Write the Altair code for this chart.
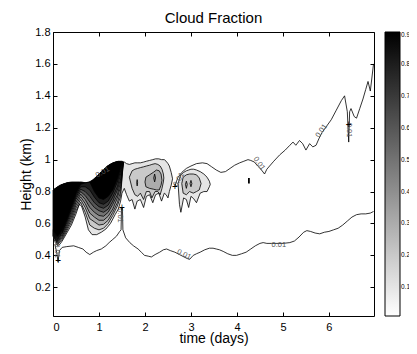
import altair as alt
import pandas as pd

FONT = "Liberation Sans"
TITLE = "Cloud Fraction"

# ---------------- axes / colour bar ticks ----------------
X_TICKS = [0, 1, 2, 3, 4, 5, 6]
Y_TICKS = [0.2, 0.4, 0.6, 0.8, 1.0, 1.2, 1.4, 1.6, 1.8]
CBAR_TICKS = [0.1, 0.2, 0.3, 0.4, 0.5, 0.6, 0.7, 0.8, 0.9]
X_DOMAIN = [0, 6.98]
Y_DOMAIN = [0.02, 1.8]
C_DOMAIN = [0.01, 0.9]

# ---------------- outer (light) envelope: main cloud + second cloud ----------------
OUT_T = [0, 0.05, 0.1, 0.15, 0.2, 0.3, 0.4, 0.5, 0.57, 0.62, 0.7, 0.77, 0.85, 0.95,
         1.05, 1.15, 1.25, 1.35, 1.42, 1.47, 1.5, 1.55, 1.6, 1.66, 1.72, 1.78, 1.83,
         1.9, 1.97, 2.03, 2.1, 2.17, 2.23, 2.3, 2.36, 2.42, 2.46, 2.5, 2.53, 2.57, 2.6]
OUT_TOP = [0.81, 0.82, 0.83, 0.84, 0.845, 0.855, 0.86, 0.86, 0.86, 0.86, 0.855, 0.858,
           0.87, 0.895, 0.925, 0.95, 0.972, 0.985, 0.99, 0.99, 0.99, 0.985, 0.975, 0.97,
           0.975, 0.98, 0.98, 0.98, 0.985, 0.99, 0.995, 1.0, 1.005, 1.005, 1.0, 1.0,
           0.99, 0.975, 0.96, 0.92, 0.88]
OUT_BOT = [0.52, 0.48, 0.46, 0.47, 0.49, 0.54, 0.59, 0.66, 0.72, 0.71, 0.64, 0.56,
           0.53, 0.53, 0.545, 0.565, 0.60, 0.655, 0.69, 0.74, 0.79, 0.82, 0.78, 0.74,
           0.75, 0.69, 0.74, 0.75, 0.70, 0.77, 0.78, 0.73, 0.78, 0.79, 0.74, 0.79,
           0.78, 0.76, 0.80, 0.84, 0.88]

# ---------------- main cloud inner levels (top shared, bottoms per level) ----------------
MAIN_T = [0, 0.1, 0.2, 0.3, 0.4, 0.5, 0.6, 0.7, 0.8, 0.9, 1.0, 1.1, 1.2, 1.3, 1.4, 1.47, 1.53]
MAIN_TOP = [0.81, 0.83, 0.845, 0.855, 0.86, 0.86, 0.86, 0.855, 0.86, 0.88, 0.91, 0.94,
            0.965, 0.98, 0.99, 0.99, 0.985]
MAIN_BOT_02 = [0.525, 0.468, 0.50, 0.553, 0.607, 0.679, 0.733, 0.67, 0.59, 0.57, 0.56, 0.57, 0.60, 0.65, 0.71, 0.77, 0.985]
MAIN_BOT_03 = [0.53, 0.475, 0.51, 0.566, 0.624, 0.697, 0.75, 0.70, 0.63, 0.61, 0.59, 0.595, 0.62, 0.67, 0.73, 0.80, 0.985]
MAIN_BOT_04 = [0.535, 0.483, 0.52, 0.579, 0.641, 0.715, 0.767, 0.725, 0.665, 0.64, 0.62, 0.62, 0.645, 0.69, 0.76, 0.83, 0.985]
MAIN_BOT_05 = [0.54, 0.49, 0.53, 0.592, 0.658, 0.733, 0.784, 0.75, 0.70, 0.67, 0.65, 0.645, 0.67, 0.72, 0.78, 0.86, 0.985]
MAIN_BOT_06 = [0.545, 0.498, 0.54, 0.605, 0.675, 0.751, 0.80, 0.775, 0.735, 0.70, 0.68, 0.67, 0.69, 0.74, 0.81, 0.88, 0.985]
MAIN_BOT_07 = [0.55, 0.505, 0.545, 0.615, 0.69, 0.765, 0.815, 0.80, 0.77, 0.73, 0.705, 0.695, 0.715, 0.765, 0.83, 0.91, 0.985]
MAIN_BOT_08 = [0.555, 0.513, 0.552, 0.623, 0.70, 0.778, 0.83, 0.83, 0.81, 0.765, 0.73, 0.72, 0.74, 0.79, 0.86, 0.93, 0.985]
MAIN_BOT_09 = [0.56, 0.52, 0.56, 0.63, 0.71, 0.79, 0.845, 0.855, 0.86, 0.80, 0.76, 0.75, 0.77, 0.81, 0.88, 0.95, 0.985]
MAIN_LEVELS = [0.2, 0.3, 0.4, 0.5, 0.6, 0.7, 0.8, 0.9]
MAIN_BOTS = [MAIN_BOT_02, MAIN_BOT_03, MAIN_BOT_04, MAIN_BOT_05,
             MAIN_BOT_06, MAIN_BOT_07, MAIN_BOT_08, MAIN_BOT_09]

# ---------------- second cloud (t ~ 1.6-2.6) inner levels ----------------
G2A_T = [1.66, 1.72, 1.78, 1.84, 1.9, 1.97, 2.03, 2.1, 2.15, 2.22, 2.28, 2.33, 2.37, 2.4, 2.41]
G2A_TOP = [0.89, 0.93, 0.94, 0.945, 0.95, 0.955, 0.96, 0.965, 0.97, 0.975, 0.97, 0.96, 0.94, 0.91, 0.885]
G2A_BOT = [0.89, 0.82, 0.78, 0.77, 0.79, 0.75, 0.80, 0.80, 0.76, 0.80, 0.80, 0.78, 0.82, 0.86, 0.885]
G2B_T = [2.0, 2.02, 2.1, 2.18, 2.25, 2.31, 2.35, 2.37]
G2B_TOP = [0.86, 0.89, 0.905, 0.92, 0.935, 0.93, 0.91, 0.87]
G2B_BOT = [0.86, 0.83, 0.82, 0.815, 0.81, 0.81, 0.84, 0.87]
G2C_T = [1.82, 1.83, 1.84]
G2C_TOP = [0.855, 0.875, 0.855]
G2C_BOT = [0.855, 0.835, 0.855]
G2D_T = [2.19, 2.21, 2.23]
G2D_TOP = [0.885, 0.91, 0.885]
G2D_BOT = [0.885, 0.86, 0.885]

# ---------------- third cloud (t ~ 2.7-3.4) ----------------
G3A_T = [2.72, 2.75, 2.78, 2.84, 2.9, 2.95, 3.0, 3.06, 3.12, 3.2, 3.28, 3.35, 3.4, 3.42]
G3A_TOP = [0.85, 0.88, 0.905, 0.92, 0.93, 0.935, 0.94, 0.94, 0.935, 0.925, 0.91, 0.89, 0.865, 0.845]
G3A_BOT = [0.85, 0.72, 0.67, 0.76, 0.75, 0.70, 0.77, 0.755, 0.73, 0.79, 0.80, 0.80, 0.83, 0.845]
G3B_T = [2.8, 2.83, 2.9, 2.97, 3.05, 3.12, 3.18, 3.22]
G3B_TOP = [0.85, 0.89, 0.905, 0.91, 0.91, 0.905, 0.885, 0.85]
G3B_BOT = [0.85, 0.79, 0.78, 0.80, 0.79, 0.80, 0.81, 0.85]
G3C_T = [2.88, 2.9, 2.92]
G3C_TOP = [0.845, 0.865, 0.845]
G3C_BOT = [0.845, 0.82, 0.845]
G3D_T = [2.98, 3.0, 3.02]
G3D_TOP = [0.85, 0.87, 0.85]
G3D_BOT = [0.85, 0.83, 0.85]

# ---------------- 0.01 contour lines ----------------
LOWER_T = [0.04, 0.08, 0.11, 0.14, 0.2, 0.3, 0.45, 0.55, 0.65, 0.72, 0.8, 0.88, 0.95, 1.05,
           1.15, 1.22, 1.3, 1.38, 1.45, 1.48, 1.49, 1.51, 1.52, 1.58, 1.67, 1.75, 1.85, 1.92,
           1.99, 2.07, 2.14, 2.22, 2.32, 2.4, 2.47, 2.55, 2.65, 2.75, 2.85, 2.92, 2.97, 3.05,
           3.12, 3.2, 3.3, 3.4, 3.48, 3.55, 3.62, 3.7, 3.8, 3.9, 3.99, 4.1, 4.2, 4.3, 4.4,
           4.5, 4.57, 4.65, 4.75, 4.85, 5.0, 5.15, 5.25, 5.35, 5.45, 5.52, 5.6, 5.7, 5.8,
           5.9, 6.0, 6.1, 6.2, 6.3, 6.4, 6.5, 6.6, 6.7, 6.8, 6.9, 6.97]
LOWER_H = [0.47, 0.42, 0.36, 0.43, 0.45, 0.455, 0.46, 0.45, 0.44, 0.42, 0.405, 0.42, 0.43, 0.44,
           0.46, 0.48, 0.50, 0.52, 0.55, 0.56, 0.70, 0.70, 0.56, 0.51, 0.48, 0.46, 0.44, 0.42,
           0.40, 0.395, 0.39, 0.405, 0.42, 0.435, 0.44, 0.43, 0.42, 0.405, 0.39, 0.38, 0.375, 0.40,
           0.41, 0.42, 0.435, 0.445, 0.445, 0.44, 0.435, 0.425, 0.41, 0.40, 0.40, 0.41, 0.42, 0.44, 0.46,
           0.475, 0.48, 0.475, 0.475, 0.475, 0.475, 0.48, 0.49, 0.515, 0.545, 0.555, 0.55, 0.54, 0.535,
           0.545, 0.55, 0.56, 0.57, 0.59, 0.615, 0.64, 0.655, 0.66, 0.66, 0.665, 0.675]
UPPER_T = [2.65, 2.68, 2.72, 2.8, 2.9, 3.0, 3.12, 3.25, 3.35, 3.45, 3.55, 3.65, 3.75, 3.85,
           3.95, 4.06, 4.15, 4.24, 4.3, 4.38, 4.45, 4.52, 4.6, 4.65, 4.71, 4.8, 4.93, 5.05,
           5.15, 5.22, 5.28, 5.36, 5.43, 5.5, 5.58, 5.65, 5.72, 5.78, 5.85, 5.95, 6.05, 6.16,
           6.27, 6.34, 6.4, 6.43, 6.45, 6.48, 6.55, 6.6, 6.67, 6.74, 6.8, 6.85, 6.9, 6.97]
UPPER_H = [0.83, 0.86, 0.89, 0.92, 0.945, 0.96, 0.975, 0.98, 0.975, 0.955, 0.935, 0.92, 0.925, 0.945,
           0.965, 0.98, 0.99, 1.0, 0.995, 0.985, 0.96, 0.94, 0.91, 0.94, 0.96, 0.99, 1.03, 1.06,
           1.09, 1.11, 1.09, 1.12, 1.10, 1.06, 1.10, 1.08, 1.09, 1.13, 1.17, 1.21, 1.25, 1.31,
           1.37, 1.40, 1.30, 1.11, 1.30, 1.32, 1.27, 1.26, 1.32, 1.38, 1.44, 1.49, 1.43, 1.60]
SPECK_T = [4.26, 4.26]
SPECK_H = [0.85, 0.885]

# ---------------- contour labels and label markers ----------------
LABEL_TEXT = ["0.01", "0.01", "0.01", "0.01", "0.01", "0.01", "0.01", "0.01", "0.01"]
LABEL_T = [2.85, 4.91, 4.48, 5.84, 6.43, 0.08, 1.46, 1.08, 2.74]
LABEL_H = [0.405, 0.465, 0.975, 1.18, 1.185, 0.43, 0.65, 0.92, 0.875]
LABEL_ANGLE = [25, 0, 55, 305, 90, 90, 90, 330, 300]
CROSS_T = [0.11, 1.5, 2.65, 6.43]
CROSS_H = [0.365, 0.70, 0.83, 1.22]

# ---------------- tables ----------------
area_rows, line_rows = [], []


def add_path(name, ts, hs):
    for i, (t, h) in enumerate(zip(ts, hs)):
        line_rows.append({"path": name, "ord": i, "t": t, "h": h})


def add_region(name, level, ts, tops, bots, outline=True):
    for t, a, b in zip(ts, tops, bots):
        area_rows.append({"region": name, "level": level, "t": t, "top": a, "bot": b})
    if outline:
        add_path(name, list(ts) + list(ts[::-1]) + [ts[0]],
                 list(tops) + list(bots[::-1]) + [tops[0]])


add_region("outer", 0.1, OUT_T, OUT_TOP, OUT_BOT)
for lv, bots in zip(MAIN_LEVELS, MAIN_BOTS):
    add_region(f"main{lv}", lv, MAIN_T, MAIN_TOP, bots, outline=False)
    add_path(f"main{lv}", MAIN_T, bots)
add_region("g2a", 0.2, G2A_T, G2A_TOP, G2A_BOT)
add_region("g2b", 0.3, G2B_T, G2B_TOP, G2B_BOT)
add_region("g2c", 0.4, G2C_T, G2C_TOP, G2C_BOT)
add_region("g2d", 0.4, G2D_T, G2D_TOP, G2D_BOT)
add_region("g3a", 0.1, G3A_T, G3A_TOP, G3A_BOT)
add_region("g3b", 0.2, G3B_T, G3B_TOP, G3B_BOT)
add_region("g3c", 0.3, G3C_T, G3C_TOP, G3C_BOT)
add_region("g3d", 0.3, G3D_T, G3D_TOP, G3D_BOT)
add_path("lower", LOWER_T, LOWER_H)
add_path("upper", UPPER_T, UPPER_H)

area_df = pd.DataFrame(area_rows)
line_df = pd.DataFrame(line_rows)
speck_df = pd.DataFrame({"t": SPECK_T, "h": SPECK_H})
label_df = pd.DataFrame({"text": LABEL_TEXT, "t": LABEL_T, "h": LABEL_H, "angle": LABEL_ANGLE})
cross_df = pd.DataFrame({"t": CROSS_T, "h": CROSS_H})
title_df = pd.DataFrame({"title": [TITLE]})

# ---------------- encodings ----------------
x_scale = alt.Scale(domain=X_DOMAIN, nice=False, zero=False)
y_scale = alt.Scale(domain=Y_DOMAIN, nice=False, zero=False)
x_axis = alt.Axis(values=X_TICKS, format="d", title="time (days)", orient="bottom",
                  offset=-4, tickSize=4, labelPadding=5, titleY=30,
                  titleBaseline="alphabetic", grid=False, domain=False)
y_axis = alt.Axis(values=Y_TICKS, format="~g", title="Height (km)", orient="left",
                  offset=-4, tickSize=4, labelPadding=3, titleX=-31,
                  titleBaseline="middle", grid=False, domain=False)
X = alt.X("t:Q", scale=x_scale, axis=x_axis)
color = alt.Color(
    "level:Q",
    scale=alt.Scale(domain=C_DOMAIN, range=["#ffffff", "#000000"], interpolate="rgb"),
    legend=alt.Legend(orient="none", legendX=332, legendY=0, direction="vertical",
                      gradientLength=284, gradientThickness=15,
                      gradientStrokeColor="black", gradientStrokeWidth=1,
                      values=CBAR_TICKS, format=".1f", labelFontSize=6.5, labelFont=FONT,
                      labelColor="black", labelOffset=1, title=None, padding=0),
)

layers = []
for lv in sorted(area_df["level"].unique()):
    sub = area_df[area_df["level"] == lv]
    layers.append(
        alt.Chart(sub).mark_area(interpolate="linear", strokeWidth=0).encode(
            x=X,
            y=alt.Y("top:Q", scale=y_scale, axis=y_axis),
            y2="bot:Q",
            color=color,
            detail="region:N",
        )
    )

lines = alt.Chart(line_df).mark_line(color="black", strokeWidth=0.8).encode(
    x=X, y=alt.Y("h:Q", scale=y_scale, axis=y_axis), detail="path:N", order="ord:Q"
)
speck = alt.Chart(speck_df).mark_line(color="black", strokeWidth=1.8).encode(
    x=X, y=alt.Y("h:Q", scale=y_scale, axis=y_axis)
)
labels = alt.Chart(label_df).mark_text(fontSize=7.5, font=FONT, color="#555555").encode(
    x=X, y=alt.Y("h:Q", scale=y_scale, axis=y_axis), text="text:N",
    angle=alt.Angle("angle:Q", scale=None)
)
crosses = alt.Chart(cross_df).mark_text(text="+", fontSize=10, font=FONT, color="black").encode(
    x=X, y=alt.Y("h:Q", scale=y_scale, axis=y_axis)
)
title_mark = alt.Chart(title_df).mark_text(
    fontSize=15, font=FONT, color="black", align="center", baseline="alphabetic"
).encode(text="title:N", x=alt.value(160.5), y=alt.value(-9))

inner = alt.layer(*layers, lines, speck, labels, crosses, title_mark)

mirror = alt.Chart(cross_df).mark_point(opacity=0).encode(
    x=alt.X("t:Q", scale=x_scale,
            axis=alt.Axis(values=X_TICKS, orient="top", labels=False, title=None,
                          offset=-4, tickSize=4, grid=False, domain=False)),
    y=alt.Y("h:Q", scale=y_scale,
            axis=alt.Axis(values=Y_TICKS, orient="right", labels=False, title=None,
                          offset=-4, tickSize=4, grid=False, domain=False)),
)

chart = (
    alt.layer(inner, mirror)
    .resolve_scale(x="independent", y="independent")
    .properties(
        width=321, height=284,
        autosize=alt.AutoSizeParams(type="none"),
        padding={"left": 45, "top": 24, "right": 35, "bottom": 30},
        background="white",
    )
    .configure_view(stroke="black", strokeWidth=1)
    .configure_axis(labelFont=FONT, labelFontSize=11, labelColor="black",
                    titleFont=FONT, titleFontSize=14, titleFontWeight="normal",
                    titleColor="black", tickColor="black", tickWidth=1)
)

chart.save("out.html", embed_options={"renderer": "svg", "actions": False})
